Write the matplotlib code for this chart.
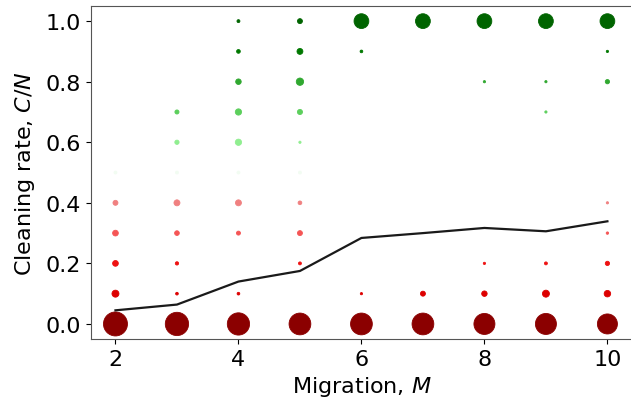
import numpy as np
import matplotlib
matplotlib.use("Agg")
import matplotlib.pyplot as plt

migration = [2, 3, 4, 5, 6, 7, 8, 9, 10]
cleaning_rates = [0.0, 0.1, 0.2, 0.3, 0.4, 0.5, 0.6, 0.7, 0.8, 0.9, 1.0]

# share of runs (%) ending at each cleaning rate (rows) for each migration (cols)
share_00 = [79, 74.5, 68, 65, 65, 65, 60.5, 60.5, 55]
share_01 = [6.7, 1.0, 1.0, 0, 0.7, 3.4, 4.1, 6.7, 5.8]
share_02 = [4.5, 1.5, 0, 1.2, 0, 0, 0.7, 1.2, 2.5]
share_03 = [4.5, 3.0, 2.2, 3.4, 0, 0, 0, 0, 0.8]
share_04 = [3.4, 4.9, 4.9, 1.9, 0, 0, 0, 0, 0.7]
share_05 = [1.2, 1.2, 1.2, 1.2, 0, 0, 0, 0, 0]
share_06 = [0, 2.5, 5.4, 0.7, 0, 0, 0, 0, 0]
share_07 = [0, 2.3, 5.4, 3.6, 0, 0, 0, 0.7, 0]
share_08 = [0, 0, 4.2, 7.4, 0, 0, 0.7, 0.7, 2.5]
share_09 = [0, 0, 1.9, 4.8, 1.0, 0, 0, 0, 0.7]
share_10 = [0, 0, 1.2, 3.4, 30, 30, 30, 30, 30]

mean_rate = [0.045, 0.064, 0.14, 0.175, 0.284, 0.30, 0.317, 0.306, 0.339]

level_colors = ['#8b0000', '#dd0000', '#ee1111', '#f55555', '#f08080',
                '#f2fcf2', '#90ee90', '#5ccf5c', '#30a830', '#007800', '#006400']

shares = [share_00, share_01, share_02, share_03, share_04, share_05,
          share_06, share_07, share_08, share_09, share_10]

fig = plt.figure(figsize=(6.31, 4.02), dpi=100)
ax = fig.add_axes([0.144, 0.154, 0.8576, 0.8286])

for rate, row, col in zip(cleaning_rates, shares, level_colors):
    row = np.asarray(row, dtype=float)
    mask = row > 0
    xs = np.asarray(migration)[mask]
    ax.scatter(xs, np.full(xs.shape, rate), s=row[mask] * 3.78,
               color=col, edgecolors=col, linewidths=0.6, zorder=2)

ax.plot(migration, mean_rate, color='#1a1a1a', lw=1.6, zorder=3)

ax.set_xlim(1.6, 10.4)
ax.set_ylim(-0.05, 1.05)
ax.set_xticks([2, 4, 6, 8, 10])
ax.set_yticks([0.0, 0.2, 0.4, 0.6, 0.8, 1.0])
ax.set_yticklabels(['0.0', '0.2', '0.4', '0.6', '0.8', '1.0'])
ax.tick_params(labelsize=16)
ax.set_xlabel('Migration, $M$', fontsize=16)
ax.set_ylabel('Cleaning rate, $C/N$', fontsize=16, labelpad=6)
for sp in ax.spines.values():
    sp.set_color('#555555')

fig.savefig('out.png', dpi=100)
